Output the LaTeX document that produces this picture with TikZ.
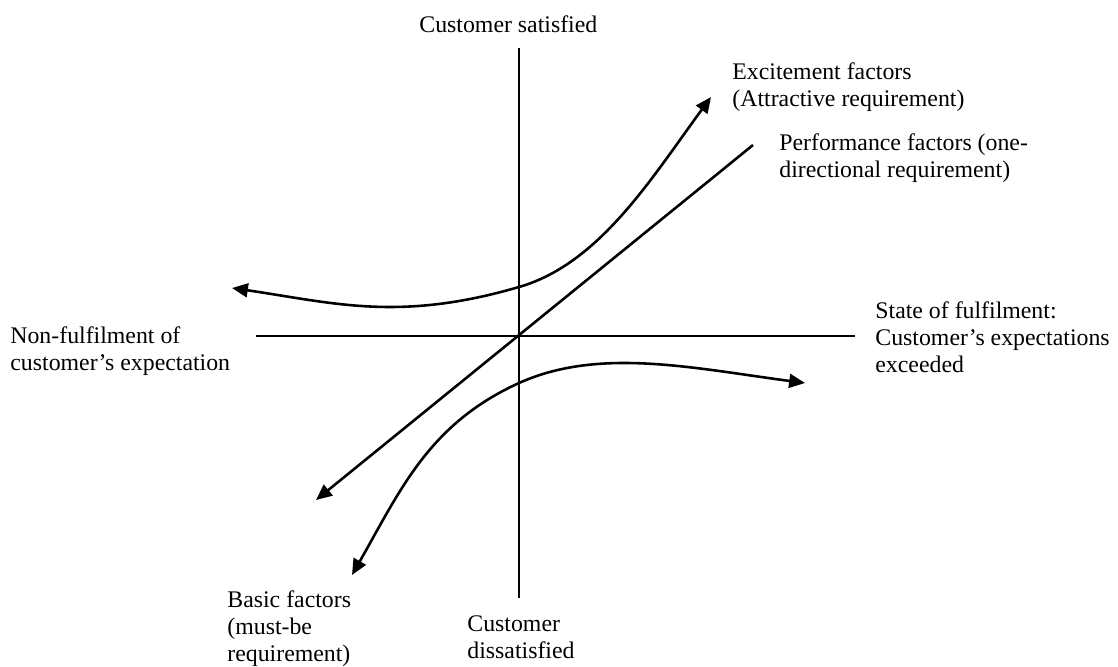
\documentclass[tikz,border=0pt]{standalone}
\usepackage{fontspec}
\setmainfont{Liberation Serif}
\usepackage{tikz}
\usetikzlibrary{arrows.meta,positioning}
\tikzset{
  achse/.style={black,line width=0.75pt},
  kurve/.style={black,line width=1.3pt},
  beschriftung/.style={inner sep=0pt,anchor=base west,align=left,font=\fontsize{12pt}{13.6pt}\selectfont}
}

\begin{document}
\begin{tikzpicture}[x=0.504pt,y=-0.504pt,>={Triangle[length=8pt,width=7pt]}]
%Koordinaten in Pixeln wie im Bild, y zeigt nach unten
\useasboundingbox (0,0) rectangle (1118,666);
%Achsen
\draw[achse] (519,48) -- (519,598);
\draw[achse] (256,336) -- (855,336);
%Leistungsfaktoren: Gerade durch den Ursprung
\draw[kurve,->] (753,145) -- (316,500);
%Begeisterungsfaktoren
\draw[kurve,<->] (232,288) .. controls (334,303) and (399,322) .. (519,287) .. controls (599,264) and (651,179) .. (711,97);
%Basisfaktoren
\draw[kurve,<->] (352,575) .. controls (401,489) and (429,424) .. (519,383) .. controls (599,347) and (692,368) .. (805,383);
%Beschriftungen (Anker = Grundlinie der letzten Zeile)
\node[beschriftung] (zufrieden) at (419,32) {Customer satisfied};
\node[beschriftung] (begeisterung) at (732,106) {Excitement factors\\(Attractive requirement)};
\node[beschriftung] (leistung) at (779,177) {Performance factors (one-\\directional requirement)};
\node[beschriftung] (erfuellung) at (875,372) {State of fulfilment:\\Customer’s expectations\\exceeded};
\node[beschriftung] (nichterfuellung) at (10,370) {Non-fulfilment of\\customer’s expectation};
\node[beschriftung] (basis) at (227,661) {Basic factors\\(must-be\\requirement)};
\node[beschriftung] (unzufrieden) at (467,658) {Customer\\dissatisfied};
\end{tikzpicture}
\end{document}
